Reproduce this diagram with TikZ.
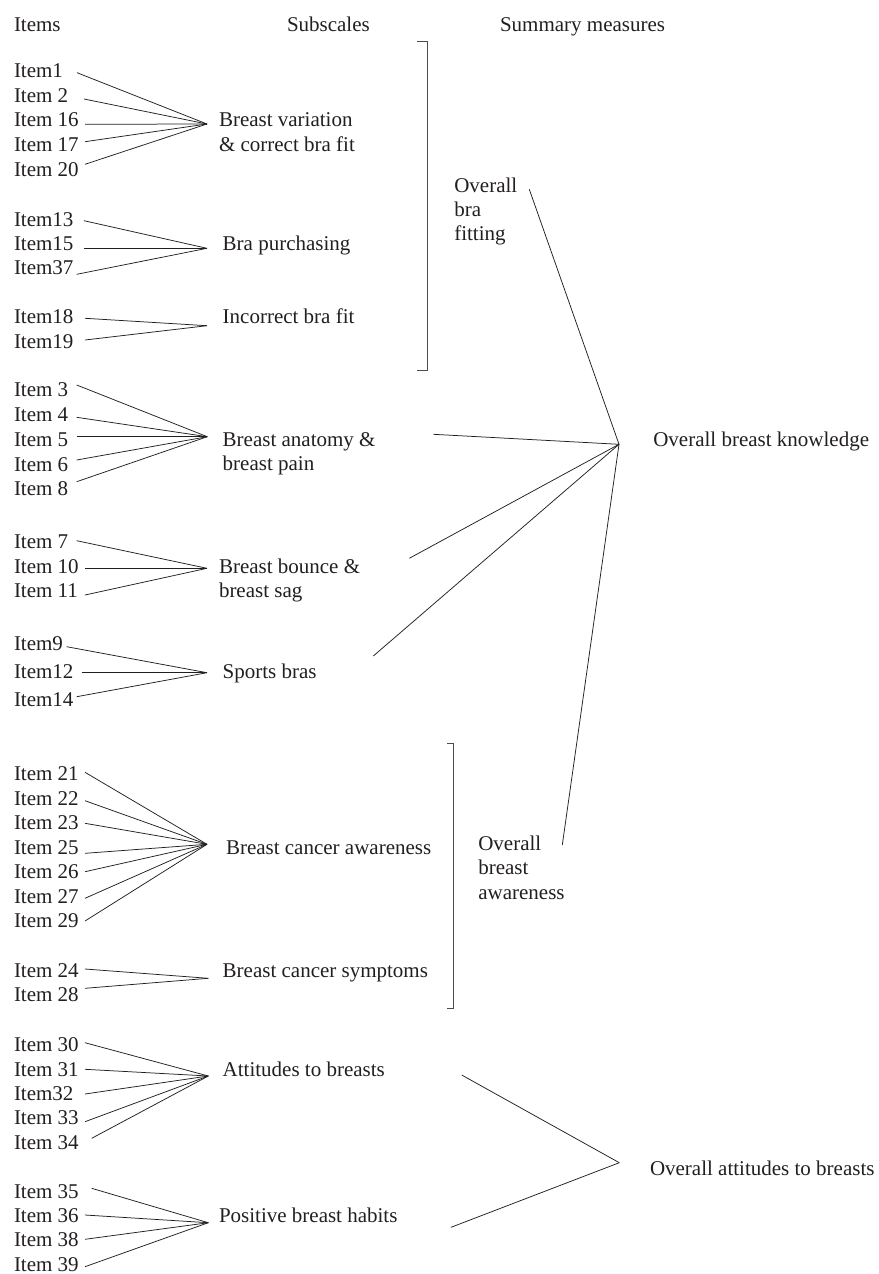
\documentclass[tikz,border=0pt]{standalone}
\usepackage{fontspec}
\setmainfont{Liberation Serif}
\usetikzlibrary{calc}
\definecolor{ink}{RGB}{35,31,32}
\begin{document}
\begin{tikzpicture}[x=1pt,y=-1pt,
  txt/.style={anchor=base west,inner sep=0pt,outer sep=0pt,font=\fontsize{21}{24.5}\selectfont,text=ink,align=left},
  conn/.style={draw=ink,line width=0.75pt},
  brk/.style={draw=ink!80,line width=0.9pt}]
\useasboundingbox[fill=white] (0,0) rectangle (878,1274);
% headers
\node[txt] (hItems) at (14,31) {Items};
\node[txt] (hSub) at (287,31) {Subscales};
\node[txt] (hSum) at (500,31) {Summary measures};
% hubs
\coordinate (h1) at (207,124);
\coordinate (h2) at (207,248.3);
\coordinate (h3) at (207,325.7);
\coordinate (h4) at (207.3,436.7);
\coordinate (h5) at (207,568.3);
\coordinate (h6) at (207,672.7);
\coordinate (h7) at (207,844.3);
\coordinate (h8) at (208.3,978.3);
\coordinate (h9) at (208.3,1076);
\coordinate (h10) at (208.3,1222.7);
\coordinate (K) at (619,444.3);
\coordinate (A) at (619.3,1162.7);
% items
\foreach \n/\t/\b/\sx/\sy/\h in {
1/Item1/77.7/77/72.7/h1,
2/Item 2/102.7/84/99/h1,
16/Item 16/126.7/85/124.3/h1,
17/Item 17/151.7/85/141.7/h1,
20/Item 20/176.7/85/164.3/h1,
13/Item13/226/84/220.7/h2,
15/Item15/250/84/248.3/h2,
37/Item37/274.3/76.7/274.3/h2,
18/Item18/323.3/85/318.3/h3,
19/Item19/348.3/85/340/h3,
3/Item 3/396.7/76.7/385/h4,
4/Item 4/421.7/76.7/417.3/h4,
5/Item 5/446/76.7/436.7/h4,
6/Item 6/471/76.7/460/h4,
8/Item 8/495/76.7/481.7/h4,
7/Item 7/548.3/76.7/540.7/h5,
10/Item 10/573.3/85/568.3/h5,
11/Item 11/597.3/85/595/h5,
9/Item9/650.7/66.7/646.7/h6,
12/Item12/678.3/81.7/672.7/h6,
14/Item14/706.7/76.7/696.7/h6,
21/Item 21/780/85/772.3/h7,
22/Item 22/805.7/85/800.7/h7,
23/Item 23/829.3/85/823.3/h7,
25/Item 25/854.3/85/853.3/h7,
26/Item 26/878.3/85/871.7/h7,
27/Item 27/903.3/85/898.3/h7,
29/Item 29/927.7/85/921/h7,
24/Item 24/977.3/85/969/h8,
28/Item 28/1001.7/85/988.3/h8,
30/Item 30/1051.7/85/1042.7/h9,
31/Item 31/1076/85/1069.3/h9,
32/Item32/1100/85/1094/h9,
33/Item 33/1124/85/1121.7/h9,
34/Item 34/1149.3/91.7/1138.3/h9,
35/Item 35/1198.3/91.7/1188.3/h10,
36/Item 36/1222.7/85/1215/h10,
38/Item 38/1246.7/85/1239.3/h10,
39/Item 39/1271.7/85/1266.7/h10}{
  \node[txt] (i\n) at (14,\b) {\t};
  \coordinate (s\n) at (\sx,\sy);
  \draw[conn] (s\n) -- (\h);
}
% subscales (multi-line nodes: base = last line's baseline)
\node[txt,font=\fontsize{21}{25}\selectfont] (sv) at (219,151.7) {Breast variation\\\& correct bra fit};
\node[txt] (bp) at (222.7,250) {Bra purchasing};
\node[txt] (ib) at (222.7,323.3) {Incorrect bra fit};
\node[txt,font=\fontsize{21}{24}\selectfont] (ba) at (222.7,470.7) {Breast anatomy \&\\breast pain};
\node[txt,font=\fontsize{21}{24}\selectfont] (bb) at (219,597.3) {Breast bounce \&\\breast sag};
\node[txt] (sb) at (222.7,678.3) {Sports bras};
\node[txt] (bca) at (226,854.3) {Breast cancer awareness};
\node[txt] (bcs) at (222.7,977.3) {Breast cancer symptoms};
\node[txt] (ab) at (222.7,1076) {Attitudes to breasts};
\node[txt] (pb) at (219,1222.7) {Positive breast habits};
% summary measures
\node[txt,font=\fontsize{21}{24}\selectfont] (obf) at (454.3,240.7) {Overall\\bra\\fitting};
\node[txt] (obk) at (653.3,446.7) {Overall breast knowledge};
\node[txt,font=\fontsize{21}{24.2}\selectfont] (oba) at (478.3,899) {Overall\\breast\\awareness};
\node[txt] (oab) at (650,1175) {Overall attitudes to breasts};
% brackets
\coordinate (b1t) at (427.5,41.7);
\coordinate (b1b) at (427.5,370);
\draw[brk] ($(b1t)+(-11,0)$) -- (b1t) -- (b1b) -- ($(b1b)+(-11,0)$);
\coordinate (b2t) at (453.5,743.3);
\coordinate (b2b) at (453.5,1008.3);
\draw[brk] ($(b2t)+(-6.5,0)$) -- (b2t) -- (b2b) -- ($(b2b)+(-6.5,0)$);
% connectors to summary
\coordinate (c1) at (529.3,189.3);
\coordinate (c2) at (433.3,434.3);
\coordinate (c3) at (409.3,558.3);
\coordinate (c4) at (373.3,656);
\coordinate (c5) at (562.3,845);
\coordinate (c6) at (461.7,1075);
\coordinate (c7) at (451,1227.3);
\foreach \c in {c1,c2,c3,c4,c5}{\draw[conn] (\c) -- (K);}
\foreach \c in {c6,c7}{\draw[conn] (\c) -- (A);}
\end{tikzpicture}
\end{document}
